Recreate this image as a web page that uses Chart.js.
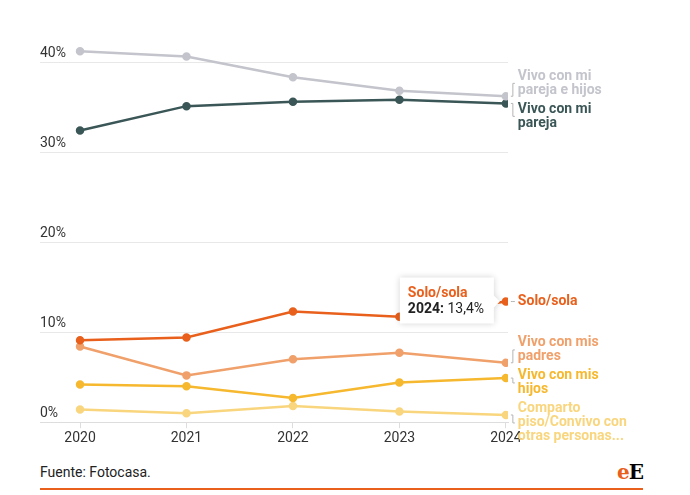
<!DOCTYPE html>
<html>
<head>
<meta charset="utf-8">
<script src="https://cdn.jsdelivr.net/npm/chart.js@4"></script>
<style>
  body { margin: 0; background: #fff; font-family: Roboto, sans-serif; }
  #wrap { position: absolute; left: 0; top: 0; width: 690px; height: 450px; }
  #source { position: absolute; left: 40px; top: 464px; font-size: 14px; color: #222; }
  #rule { position: absolute; left: 40px; top: 488px; width: 603px; height: 2px; background: #e8601c; }
  #logo { position: absolute; left: 617px; top: 460px; font: bold 20px "DejaVu Serif", serif; letter-spacing: -1px; }
  #logo span { color: #e8601c; }
</style>
</head>
<body>
<div id="wrap"><canvas id="chart"></canvas></div>
<div id="source">Fuente: Fotocasa.</div>
<div id="rule"></div>
<div id="logo"><span>e</span>E</div>
<script>
const years = [2020, 2021, 2022, 2023, 2024];
const yTicks = [0, 10, 20, 30, 40];

const seriesNames = [
  ['Vivo con mi', 'pareja e hijos'],
  ['Vivo con mi', 'pareja'],
  ['Solo/sola'],
  ['Vivo con mis', 'padres'],
  ['Vivo con mis', 'hijos'],
  ['Comparto', 'piso/Convivo con', 'otras personas...']
];
const parejaHijos = [41.2, 40.6, 38.3, 36.8, 36.2];
const pareja = [32.4, 35.1, 35.6, 35.8, 35.4];
const solo = [9.1, 9.4, 12.3, 11.7, 13.4];
const padres = [8.4, 5.2, 7.0, 7.7, 6.6];
const hijos = [4.2, 4.0, 2.7, 4.4, 4.9];
const comparto = [1.4, 1.0, 1.8, 1.2, 0.8];

const colors = ['#c3c4cc', '#3b5656', '#e8601c', '#f0a06a', '#f6b82e', '#f9d67e'];
const allSeries = [parejaHijos, pareja, solo, padres, hijos, comparto];

const datasets = allSeries.map((vals, i) => ({
  label: seriesNames[i].join(' '),
  data: vals.map((v, j) => ({ x: years[j], y: v })),
  borderColor: colors[i],
  backgroundColor: colors[i],
  borderWidth: 2.5,
  pointRadius: 3,
  pointHoverRadius: 3,
  tension: 0
}));

// labels at the right end of each line, spread so they don't overlap
const endLabels = {
  id: 'endLabels',
  afterDatasetsDraw(chart) {
    const ctx = chart.ctx;
    const lh = 14, gap = 5;
    let items = chart.data.datasets.map((ds, i) => {
      const pt = chart.getDatasetMeta(i).data[ds.data.length - 1];
      const h = seriesNames[i].length * lh;
      return { i, py: pt.y, px: pt.x, h, top: pt.y - h / 2 };
    }).sort((a, b) => a.py - b.py);

    // cluster merging
    let clusters = items.map(it => ({ items: [it], top: it.top }));
    let merged = true;
    while (merged) {
      merged = false;
      for (let k = 0; k < clusters.length - 1; k++) {
        const a = clusters[k], b = clusters[k + 1];
        const aH = a.items.reduce((s, it) => s + it.h + gap, 0);
        if (a.top + aH > b.top) {
          const all = a.items.concat(b.items);
          let off = 0, sum = 0;
          all.forEach(it => { sum += it.top - off; off += it.h + gap; });
          clusters.splice(k, 2, { items: all, top: sum / all.length });
          merged = true;
          break;
        }
      }
    }

    ctx.save();
    ctx.font = 'bold 14px Roboto, sans-serif';
    ctx.textBaseline = 'middle';
    clusters.forEach(c => {
      let y = c.top;
      c.items.forEach(it => {
        const lines = seriesNames[it.i];
        const mid = y + it.h / 2;
        // bracket from the point to the label
        ctx.strokeStyle = '#b5b5b5';
        ctx.lineWidth = 1;
        ctx.beginPath();
        const bx = it.px + 7;
        ctx.moveTo(bx - 2, it.py);
        ctx.lineTo(bx, it.py);
        ctx.lineTo(bx, mid);
        ctx.lineTo(bx + 2, mid);
        ctx.stroke();
        ctx.fillStyle = colors[it.i];
        lines.forEach((t, l) => ctx.fillText(t, it.px + 12, y + lh * l + lh / 2));
        y += it.h + gap;
      });
    });
    ctx.restore();
  }
};

// tooltip on the last Solo/sola point
const fixedTip = {
  id: 'fixedTip',
  afterDraw(chart) {
    const ctx = chart.ctx;
    const idx = 2, j = years.length - 1;
    const pt = chart.getDatasetMeta(idx).data[j];
    const w = 94, h = 46;
    const right = pt.x - 12, left = right - w, top = pt.y - 24;
    ctx.save();
    ctx.shadowColor = 'rgba(0,0,0,0.18)';
    ctx.shadowBlur = 6;
    ctx.fillStyle = '#fff';
    ctx.beginPath();
    ctx.moveTo(left, top);
    ctx.lineTo(right, top);
    ctx.lineTo(right, pt.y - 6);
    ctx.lineTo(right + 6, pt.y);
    ctx.lineTo(right, pt.y + 6);
    ctx.lineTo(right, top + h);
    ctx.lineTo(left, top + h);
    ctx.closePath();
    ctx.fill();
    ctx.shadowColor = 'transparent';
    ctx.textBaseline = 'middle';
    ctx.font = 'bold 14px Roboto, sans-serif';
    ctx.fillStyle = colors[idx];
    ctx.fillText(seriesNames[idx][0], left + 8, top + 16);
    ctx.fillStyle = '#222';
    const yr = years[j] + ':';
    ctx.fillText(yr, left + 8, top + 32);
    const yw = ctx.measureText(yr).width;
    ctx.font = '14px Roboto, sans-serif';
    ctx.fillText(' ' + solo[j].toFixed(1).replace('.', ',') + '%', left + 8 + yw, top + 32);
    ctx.restore();
  }
};

new Chart(document.getElementById('chart'), {
  type: 'line',
  data: { datasets },
  options: {
    responsive: true,
    maintainAspectRatio: false,
    animation: false,
    layout: { padding: { left: 40, right: 182, top: 26, bottom: 1 } },
    plugins: { legend: { display: false }, tooltip: { enabled: false } },
    scales: {
      x: {
        type: 'linear',
        min: 2019.624,
        max: 2024.02,
        afterBuildTicks: s => { s.ticks = years.map(v => ({ value: v })); },
        grid: { drawOnChartArea: false, drawTicks: true, tickLength: 6, color: '#dddddd' },
        border: { display: true, color: '#dddddd' },
        ticks: { font: { family: 'Roboto', size: 14 }, color: '#333', padding: 2, callback: v => String(v), maxRotation: 0 }
      },
      y: {
        min: 0,
        max: 44,
        afterBuildTicks: s => { s.ticks = yTicks.map(v => ({ value: v })); },
        grid: { color: '#e8e8e8', drawTicks: false },
        border: { display: false },
        ticks: { mirror: true, padding: 0, labelOffset: -9, font: { family: 'Roboto', size: 14 }, color: '#333', callback: v => v + '%' }
      }
    }
  },
  plugins: [endLabels, fixedTip]
});
</script>
</body>
</html>
